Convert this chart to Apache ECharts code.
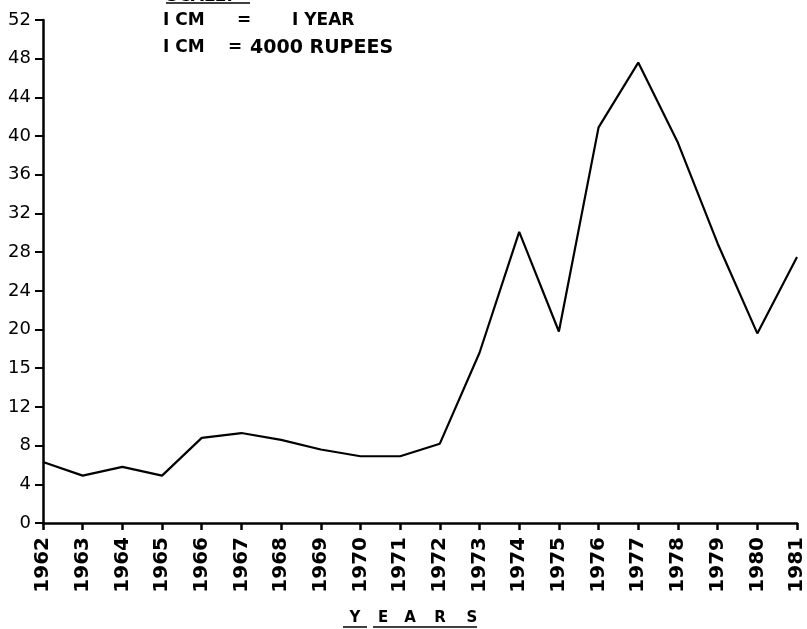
<!DOCTYPE html>
<html>
<head>
<meta charset="utf-8">
<script src="https://cdn.jsdelivr.net/npm/echarts@6/dist/echarts.min.js"></script>
<style>
html,body{margin:0;padding:0;background:#fff;}
#c{width:807px;height:629px;}
</style>
</head>
<body>
<div id="c"></div>
<script>
const years = ['1962','1963','1964','1965','1966','1967','1968','1969','1970','1971','1972','1973','1974','1975','1976','1977','1978','1979','1980','1981'];
const values = [6.3, 4.9, 5.8, 4.9, 8.8, 9.3, 8.6, 7.6, 6.9, 6.9, 8.2, 17.6, 30.1, 19.8, 40.9, 47.6, 39.3, 28.9, 19.6, 27.5];
const yTickLabels = ['0','4','8','12','15','20','24','28','32','36','40','44','48','52'];
const scaleTitle = 'SCALE:';
const scaleLine1 = ['I CM', '=', 'I YEAR'];
const scaleLine2 = ['I CM', '=', '4000 RUPEES'];
const axisTitleLetters = ['Y','E','A','R','S'];

const chart = echarts.init(document.getElementById('c'));
const FONT = 'DejaVu Sans';
const BF = 'bold 17px "DejaVu Sans"';

const graphics = [];
// scale note
graphics.push({type:'text', left:166, top:-12, style:{text:scaleTitle, font:BF, fill:'#000'}});
graphics.push({type:'line', shape:{x1:166,y1:3,x2:250,y2:3}, style:{stroke:'#000', lineWidth:1.5}});
graphics.push({type:'text', x:163, y:21, style:{
  text:'{a|' + scaleLine1[0] + '}{b|' + scaleLine1[1] + '}{c|' + scaleLine1[2] + '}',
  verticalAlign:'middle',
  rich:{
    a:{font:BF, fill:'#000', width:74},
    b:{font:BF, fill:'#000', width:55},
    c:{font:BF, fill:'#000'}
  }}});
graphics.push({type:'text', x:163, y:48, style:{
  text:'{a|' + scaleLine2[0] + '}{b|' + scaleLine2[1] + '}{c|' + scaleLine2[2] + '}',
  verticalAlign:'middle',
  rich:{
    a:{font:BF, fill:'#000', width:65},
    b:{font:BF, fill:'#000', width:22},
    c:{font:'bold 19px "DejaVu Sans"', fill:'#000'}
  }}});
// axis title letters with underlines
const letterX = [355, 383, 410, 440, 472];
axisTitleLetters.forEach((ch, i) => {
  graphics.push({type:'text', x:letterX[i], y:618, style:{text:ch, font:'bold 15px "DejaVu Sans"', fill:'#000', align:'center', verticalAlign:'middle'}});
});
graphics.push({type:'line', shape:{x1:343,y1:627,x2:367,y2:627}, style:{stroke:'#000', lineWidth:1.5}});
graphics.push({type:'line', shape:{x1:373,y1:627,x2:477,y2:627}, style:{stroke:'#000', lineWidth:1.5}});

chart.setOption({
  animation:false,
  backgroundColor:'#fff',
  grid:{left:43, right:10, top:20, bottom:106, containLabel:false},
  xAxis:{
    type:'category', data:years, boundaryGap:false,
    axisLine:{lineStyle:{color:'#000', width:2.5}},
    axisTick:{alignWithLabel:true, length:7, lineStyle:{color:'#000', width:2.5}},
    axisLabel:{rotate:90, margin:14, color:'#000', fontFamily:FONT, fontWeight:'bold', fontSize:20, interval:0},
    splitLine:{show:false}
  },
  yAxis:{
    type:'value', min:0, max:52, interval:4,
    axisLine:{show:true, lineStyle:{color:'#000', width:2.5}},
    axisTick:{show:true, length:8, lineStyle:{color:'#000', width:2}},
    axisLabel:{margin:12, color:'#000', fontFamily:FONT, fontSize:18,
      formatter:(v)=>yTickLabels[Math.round(v/4)]},
    splitLine:{show:false}
  },
  series:[{
    type:'line', data:values, symbol:'none',
    lineStyle:{color:'#000', width:2.2}
  }],
  graphic:graphics
});
</script>
</body>
</html>
